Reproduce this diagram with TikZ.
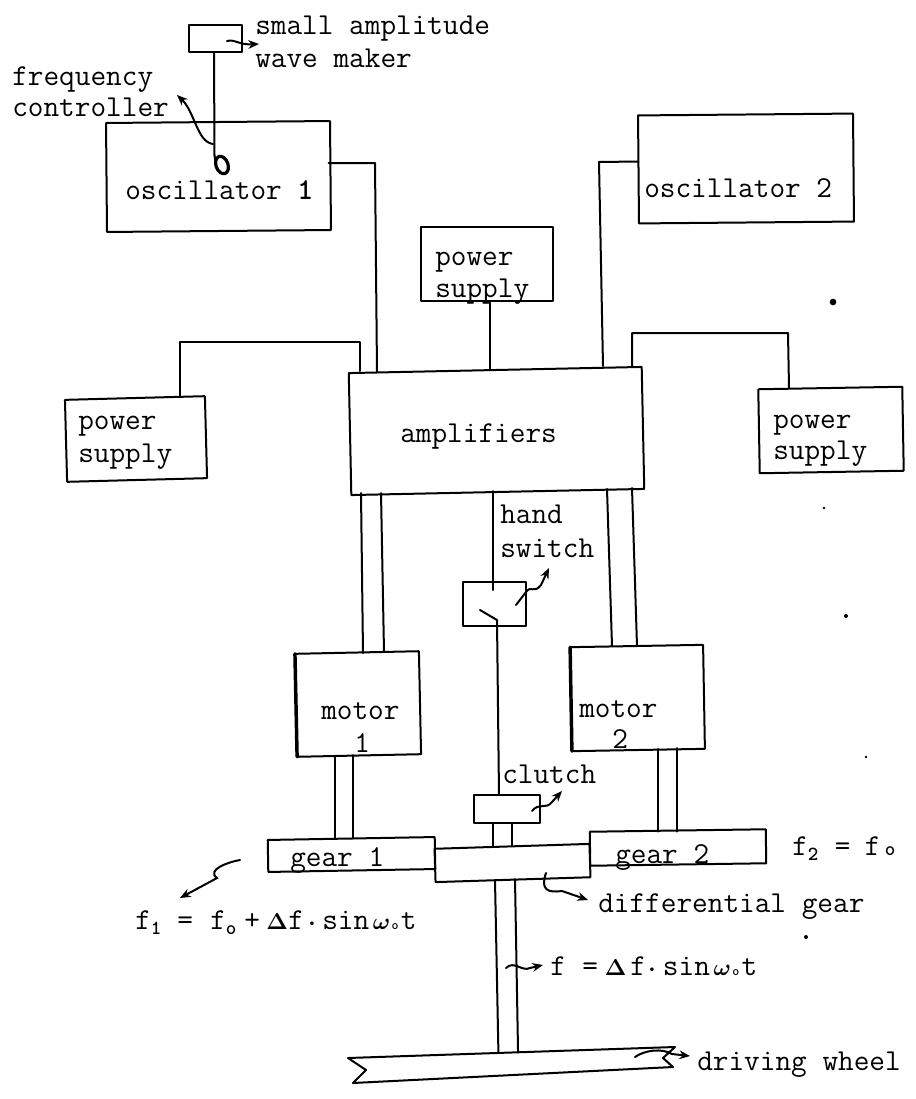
\documentclass[tikz,border=0pt]{standalone}
\usepackage{fontspec}
\usetikzlibrary{arrows.meta,calc}
\newcommand{\lowsub}[2][-0.18em]{\raisebox{#1}{\fontsize{15}{15}\selectfont\bfseries #2}}
\newcommand{\tcell}[2]{\makebox[#1pt][l]{#2}}
\newcommand{\grk}[1]{{\fontsize{19}{19}\selectfont\boldmath$#1$}}
\tikzset{
  wire/.style={line width=1.5pt,line join=round,line cap=round},
  boxshape/.style={draw,line width=1.5pt,line join=round,inner sep=0pt,outer sep=0pt},
  lbl/.style={inner sep=0pt,anchor=base west,font=\fontsize{22.8}{24}\selectfont\ttfamily\addfontfeature{FakeBold=0.6},text=black},
  pointer/.style={line width=1.5pt,line cap=round,-{Stealth[length=8pt,width=6.5pt]}},
  heavyside/.style={line width=2.6pt,line cap=round},
  speck/.style={circle,fill=black,inner sep=0pt}
}
\begin{document}
\begin{tikzpicture}[x=0.75pt,y=-0.75pt]
\useasboundingbox (0,0) rectangle (915,1099);
% boxes
\node[boxshape,minimum width=39.75pt,minimum height=20.25pt] (wave) at (215.5,38.5) {};
\node[boxshape,minimum width=168pt,minimum height=81.75pt,rotate=0.5] (osc1) at (218.5,176.5) {};
\node[boxshape,minimum width=161.25pt,minimum height=81pt,rotate=0.5] (osc2) at (746,168.5) {};
\node[boxshape,minimum width=99pt,minimum height=55.5pt] (pstop) at (487,264) {};
\node[boxshape,minimum width=105pt,minimum height=61.5pt,rotate=1.5] (psleft) at (136,439) {};
\node[boxshape,minimum width=108pt,minimum height=63pt,rotate=1] (psright) at (831,430) {};
\node[boxshape,minimum width=219.75pt,minimum height=91.5pt,rotate=1.2] (amp) at (496.5,431) {};
\node[boxshape,minimum width=93pt,minimum height=77.25pt,rotate=1.2] (mot1) at (358,704) {};
\node[boxshape,minimum width=99.75pt,minimum height=78pt,rotate=1] (mot2) at (637.5,698) {};
\node[boxshape,minimum width=47.25pt,minimum height=33pt] (sw) at (494.5,604) {};
\node[boxshape,minimum width=49.5pt,minimum height=21pt] (clutch) at (507,809) {};
\node[boxshape,minimum width=125.25pt,minimum height=24pt,rotate=1] (gear1) at (351.5,854.5) {};
\node[boxshape,minimum width=132pt,minimum height=25.5pt,rotate=0.8] (gear2) at (678,847.5) {};
\node[boxshape,minimum width=116.25pt,minimum height=25pt,rotate=1.8] (diff) at (512.5,863) {};
\draw[heavyside] (mot1.north west) -- (mot1.south west);
\draw[heavyside] (mot2.north west) -- (mot2.south west);
% wheel outline
\coordinate (wa) at (348,1058);
\coordinate (wb) at (675,1047);
\coordinate (wc) at (663,1058);
\coordinate (wd) at (673,1067);
\coordinate (we) at (353,1083);
\coordinate (wf) at (366,1070);
\draw[wire] (wa) -- (wb) -- (wc) -- (wd) -- (we) -- (wf) -- cycle;
% connectors
\draw[wire] (wave.south -| 214,0) -- ($(osc1)+(-4,-21)$);
\draw[line width=2.4pt,rotate around={20:(222,165)}] (222,165) circle[x radius=6,y radius=9];
\draw[wire] ($(osc1)+(-4,-21)$) -- ($(osc1)+(-3,-15)$);
\draw[wire] ($(osc1)+(110,-13.5)$) -- (375,163) -- ($(amp)+(-119.5,-59)$);
\draw[wire] ($(osc2)+(-108,-7)$) -- (599,162) -- ($(amp)+(106.5,-65)$);
\draw[wire] ($(psleft)+(44,-42)$) -- (180,342) -- (360,342) -- ($(amp)+(-136.5,-60)$);
\draw[wire] ($(amp)+(135.5,-64)$) -- (632,333) -- (788,333) -- ($(psright)+(-42,-42)$);
\draw[wire] (pstop.south -| 490,0) -- ($(amp)+(-6.5,-62)$);
\draw[wire] ($(amp)+(-135.5,62)$) -- ($(mot1)+(5,-51)$);
\draw[wire] ($(amp)+(-115.5,62)$) -- ($(mot1)+(26,-52)$);
\draw[wire] ($(amp)+(110.5,58)$) -- ($(mot2)+(-25.5,-52)$);
\draw[wire] ($(amp)+(135.5,57)$) -- ($(mot2)+(-0.5,-52)$);
\draw[wire] ($(mot1)+(-23,52)$) -- ($(gear1)+(-16.5,-16)$);
\draw[wire] ($(mot1)+(-5,51)$) -- ($(gear1)+(1.5,-16)$);
\draw[wire] ($(mot2)+(20.5,51)$) -- ($(gear2)+(-20,-16)$);
\draw[wire] ($(mot2)+(39.5,50)$) -- ($(gear2)+(-1,-16)$);
\draw[wire] ($(amp)+(-3.5,60)$) -- ($(sw)+(-1.5,-14)$);
\draw[wire] ($(sw)+(-14.5,6)$) -- ($(sw)+(2.5,16)$) -- ($(clutch)+(-8,-14)$);
\draw[wire] ($(sw)+(21.5,1)$) -- ($(sw)+(31.5,-12)$);
\draw[wire] ($(clutch)+(-14,14)$) -- ($(diff)+(-19.5,-16)$);
\draw[wire] ($(clutch)+(5,14)$) -- ($(diff)+(-0.5,-17)$);
\draw[wire] ($(diff)+(-17.5,17)$) -- ($(wa)!0.46!(wb)$);
\draw[wire] ($(diff)+(2.5,16)$) -- ($(wa)!0.52!(wb)$);
% pointers
\draw[pointer] (227,41) .. controls (236,39) and (238,45) .. (259,44);
\draw[pointer] (213,144) .. controls (197,142) and (195,112) .. (177,95);
\draw[pointer] (526,592) .. controls (531,585) and (534,594) .. (541,585) -- (549,568);
\draw[pointer] (240,860) .. controls (228,862) and (206,870) .. (217,878) -- (180,898);
\draw[pointer] (546,873) .. controls (540,890) and (548,893) .. (562,891) -- (588,900);
\draw[pointer] (506,968) .. controls (514,960) and (522,972) .. (530,968) -- (543,965);
\draw[pointer] (635,1057) .. controls (645,1050) and (662,1048) .. (672,1054) -- (690,1056);
\draw[pointer] (532,811) .. controls (539,802) and (546,810) .. (552,802) -- (562,791);
% labels
\node[lbl] (t1) at (255,35) {small amplitude};
\node[lbl] (t2) at (255,68) {wave maker};
\node[lbl] (t3) at (12,85) {frequency};
\node[lbl] (t4) at (12,117) {controller};
\node[lbl] (t5) at (125,199) {oscillator \textbf{1}};
\node[lbl] (t6) at (644,197) {oscillator 2};
\node[lbl] (t7) at (435,265) {power};
\node[lbl] (t8) at (435,297) {supply};
\node[lbl] (t9) at (78,429) {power};
\node[lbl] (t10) at (78,462) {supply};
\node[lbl] (t11) at (773,428) {power};
\node[lbl] (t12) at (773,459) {supply};
\node[lbl] (t13) at (400,442) {amplifiers};
\node[lbl] (t14) at (500,523) {hand};
\node[lbl] (t15) at (500,557) {switch};
\node[lbl] (t16) at (321,719) {motor};
\node[lbl] (t17) at (354,752) {1};
\node[lbl] (t18) at (579,717) {motor};
\node[lbl] (t19) at (612,748) {2};
\node[lbl] (t20) at (502,783) {clutch};
\node[lbl] (t21) at (290,866) {gear 1};
\node[lbl] (t22) at (615,863) {gear 2};
\node[lbl] (t23) at (598,912) {differential gear};
\node[lbl] (t24) at (792,855) {\tcell{32}{f\lowsub{2}}\tcell{22.5}{=}\tcell{15}{f}\lowsub[0em]{o}};
\node[lbl] (t25) at (135,929) {\tcell{31.5}{f\lowsub{1}}\tcell{24.75}{=}\tcell{25.5}{f\lowsub{o}}\tcell{16.5}{+}\tcell{16.5}{\grk{\Delta}}\tcell{15}{f}\tcell{10.5}{\grk{\cdot}}\tcell{38}{sin}\tcell{14}{\grk{\omega}}\tcell{7}{\lowsub[0em]{\fontsize{10}{10}\selectfont o}}t};
\node[lbl] (t26) at (550,975) {\tcell{24}{f}\tcell{17}{=}\tcell{19}{\grk{\Delta}}\tcell{13.5}{f}\tcell{11}{\grk{\cdot}}\tcell{38}{sin}\tcell{14}{\grk{\omega}}\tcell{7}{\lowsub[0em]{\fontsize{10}{10}\selectfont o}}t};
\node[lbl] (t27) at (697,1070) {driving wheel};
% specks
\node[speck,minimum size=5pt] (s1) at (833,302) {};
\node[speck,minimum size=2pt] (s2) at (824,508) {};
\node[speck,minimum size=3pt] (s3) at (846,616) {};
\node[speck,minimum size=2pt] (s4) at (866,757) {};
\node[speck,minimum size=3pt] (s5) at (806,937) {};
\end{tikzpicture}
\end{document}
